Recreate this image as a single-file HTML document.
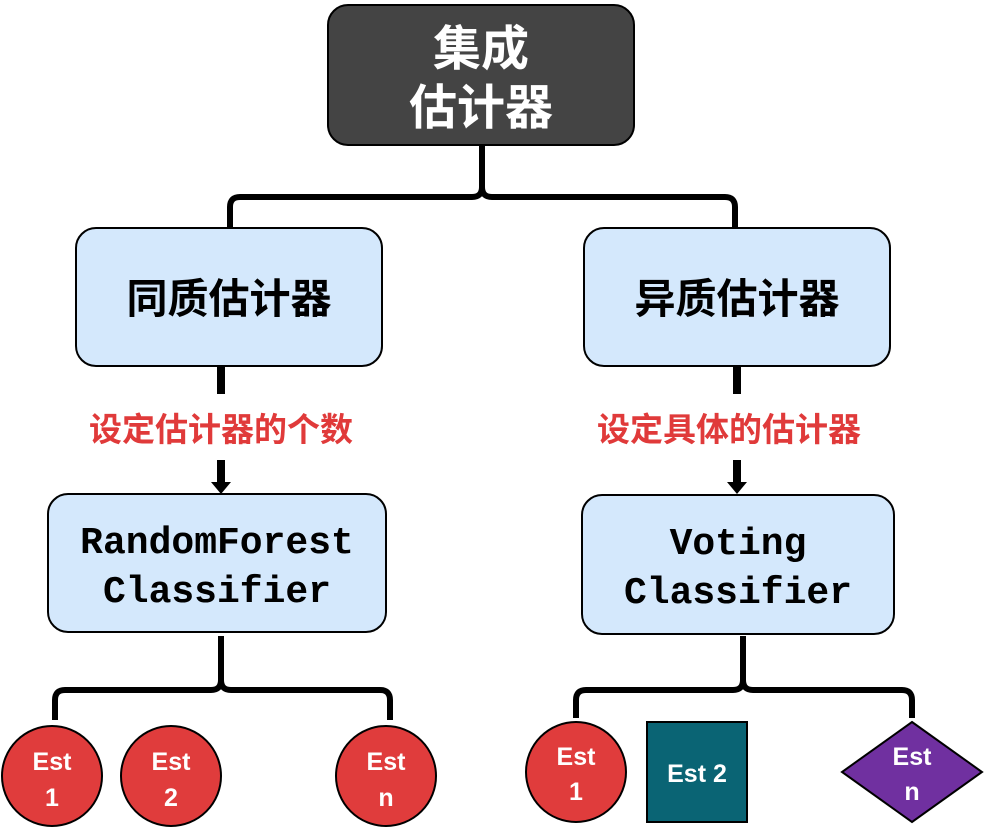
<!DOCTYPE html>
<html><head><meta charset="utf-8"><style>
html,body{margin:0;padding:0;background:#fff;width:984px;height:830px;overflow:hidden}
svg{display:block}
.cj{font-family:"Liberation Sans","Noto Sans CJK SC",sans-serif;font-weight:bold}
.mono{font-family:"Liberation Mono",monospace;font-weight:bold}
</style></head><body>
<svg width="984" height="830" viewBox="0 0 984 830" xmlns="http://www.w3.org/2000/svg">
<g fill="none" stroke="#000" stroke-width="6" stroke-linecap="butt">
<path d="M482,145 V187 Q482,197 472,197 H240 Q230,197 230,207 V228"/>
<path d="M482,187 Q482,197 492,197 H725 Q735,197 735,207 V228"/>
<path d="M221,636 V680 Q221,690 211,690 H65 Q55,690 55,700 V720"/>
<path d="M221,680 Q221,690 231,690 H380 Q390,690 390,700 V720"/>
<path d="M743,636 V680 Q743,690 733,690 H586 Q576,690 576,700 V718"/>
<path d="M743,680 Q743,690 753,690 H902 Q912,690 912,700 V718"/>
</g>
<g stroke="#000" stroke-width="8">
<line x1="221" y1="366" x2="221" y2="394"/>
<line x1="221" y1="460" x2="221" y2="484"/>
<line x1="737" y1="366" x2="737" y2="394"/>
<line x1="737" y1="460" x2="737" y2="484"/>
</g>
<polygon points="211,482 231,482 221,494" fill="#000"/>
<polygon points="727,482 747,482 737,494" fill="#000"/>
<rect x="328" y="5" width="306" height="140" rx="20" fill="#444" stroke="#000" stroke-width="2"/>
<text x="481" y="65" text-anchor="middle" class="cj" font-size="48" fill="#fff">集成</text>
<text x="481" y="124" text-anchor="middle" class="cj" font-size="48" fill="#fff">估计器</text>
<rect x="76" y="228" width="306" height="138" rx="20" fill="#d4e8fc" stroke="#000" stroke-width="2"/>
<text x="229" y="313" text-anchor="middle" class="cj" font-size="41" fill="#000">同质估计器</text>
<rect x="584" y="228" width="306" height="138" rx="20" fill="#d4e8fc" stroke="#000" stroke-width="2"/>
<text x="737" y="313" text-anchor="middle" class="cj" font-size="41" fill="#000">异质估计器</text>
<text x="221" y="441" text-anchor="middle" class="cj" font-size="33" fill="#e03a3a">设定估计器的个数</text>
<text x="729" y="441" text-anchor="middle" class="cj" font-size="33" fill="#e03a3a">设定具体的估计器</text>
<rect x="48" y="494" width="338" height="138" rx="20" fill="#d4e8fc" stroke="#000" stroke-width="2"/>
<text x="217" y="553" text-anchor="middle" class="mono" font-size="38">RandomForest</text>
<text x="217" y="602" text-anchor="middle" class="mono" font-size="38">Classifier</text>
<rect x="582" y="495" width="312" height="139" rx="20" fill="#d4e8fc" stroke="#000" stroke-width="2"/>
<text x="738" y="554" text-anchor="middle" class="mono" font-size="38">Voting</text>
<text x="738" y="603" text-anchor="middle" class="mono" font-size="38">Classifier</text>
<g fill="#e03c3c" stroke="#000" stroke-width="2">
<circle cx="52" cy="776" r="50"/><circle cx="171" cy="776" r="50"/><circle cx="386" cy="776" r="50"/><circle cx="576" cy="772" r="50"/>
</g>
<rect x="647" y="722" width="100" height="100" fill="#0a6474" stroke="#000" stroke-width="2"/>
<polygon points="912,722 982,772 912,822 842,772" fill="#7030a0" stroke="#000" stroke-width="2"/>
<g class="cj" font-size="25" fill="#fff" text-anchor="middle">
<text x="52" y="770">Est</text><text x="52" y="806">1</text>
<text x="171" y="770">Est</text><text x="171" y="806">2</text>
<text x="386" y="770">Est</text><text x="386" y="806">n</text>
<text x="576" y="765">Est</text><text x="576" y="800">1</text>
<text x="697" y="782">Est 2</text>
<text x="912" y="765">Est</text><text x="912" y="800">n</text>
</g>
</svg>
</body></html>
